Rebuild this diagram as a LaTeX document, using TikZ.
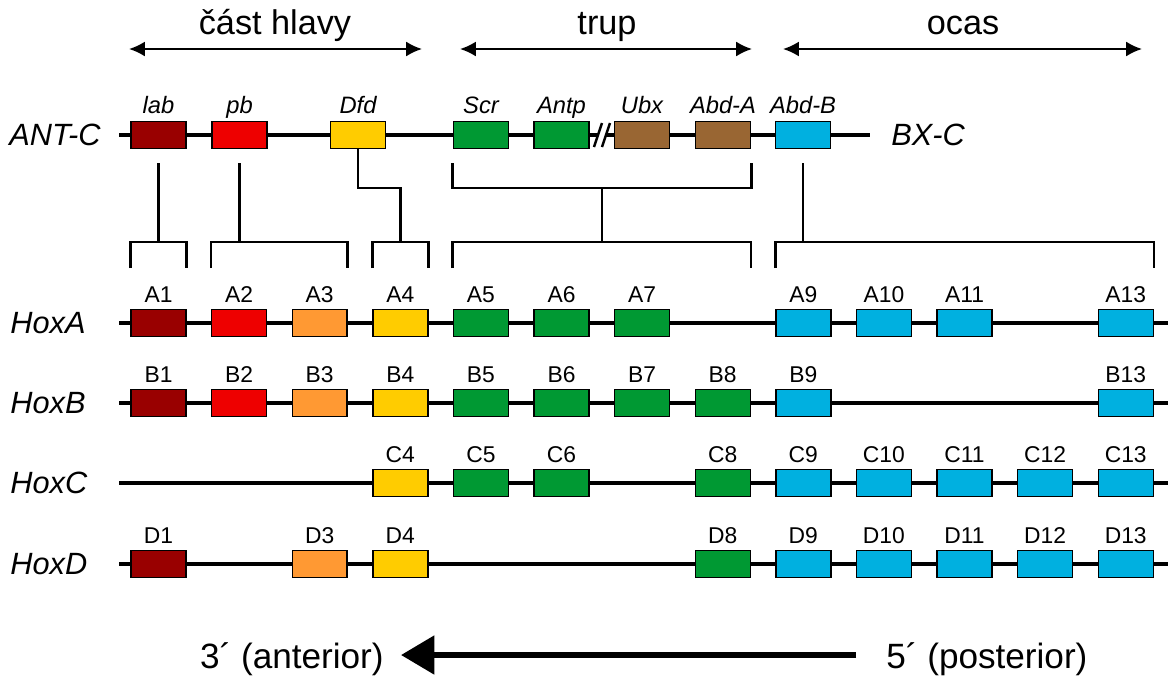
\documentclass[tikz,border=0pt]{standalone}
\usepackage{fontspec}
\setmainfont{Liberation Sans}
\usetikzlibrary{arrows.meta,calc}

\definecolor{hx1}{HTML}{990000}
\definecolor{hx2}{HTML}{EE0000}
\definecolor{hx3}{HTML}{FF9933}
\definecolor{hx4}{HTML}{FFCC00}
\definecolor{hgreen}{HTML}{009933}
\definecolor{hcyan}{HTML}{00B0E0}
\definecolor{hbrown}{HTML}{996633}
\colorlet{hx5}{hgreen}\colorlet{hx6}{hgreen}\colorlet{hx7}{hgreen}\colorlet{hx8}{hgreen}
\colorlet{hx9}{hcyan}\colorlet{hx10}{hcyan}\colorlet{hx11}{hcyan}\colorlet{hx12}{hcyan}\colorlet{hx13}{hcyan}

\begin{document}
\begin{tikzpicture}[x=0.02cm, y=-0.02cm,
    gene/.style={draw=black, line width=0.8pt, minimum width=1.1cm, minimum height=0.54cm, inner sep=0pt},
    dna/.style={line width=2.5pt},
    link/.style={line width=1.6pt},
    region/.style={line width=1.2pt, {Latex[length=9pt,width=8.5pt]}-{Latex[length=9pt,width=8.5pt]}},
    title/.style={font=\fontsize{19.5}{22}\selectfont, anchor=base, inner sep=0pt},
    cluster/.style={font=\fontsize{17.5}{20}\selectfont\itshape, anchor=west, inner sep=0pt},
    gname/.style={font=\fontsize{13.5}{15}\selectfont\itshape, anchor=base, inner sep=0pt},
    hname/.style={font=\fontsize{13}{15}\selectfont, anchor=base, inner sep=0pt}]
  \useasboundingbox (0,0) rectangle (1168,680);

  % body regions
  \node[title] (head)  at (275,34) {část hlavy};
  \node[title] (trunk) at (607,34) {trup};
  \node[title] (tail)  at (963,34) {ocas};
  \coordinate (head-l) at (129,49);  \coordinate (head-r) at (422,49);
  \coordinate (trunk-l) at (460,49); \coordinate (trunk-r) at (752,49);
  \coordinate (tail-l) at (783,49);  \coordinate (tail-r) at (1142,49);
  \draw[region] (head-l) -- (head-r);
  \draw[region] (trunk-l) -- (trunk-r);
  \draw[region] (tail-l) -- (tail-r);

  % fly complexes
  \node[cluster] (antc) at (9,135) {ANT-C};
  \node[cluster] (bxc) at (891,135) {BX-C};
  \coordinate (antc-s) at (119,135); \coordinate (brk-a) at (598,135);
  \coordinate (brk-b) at (606,135);  \coordinate (antc-e) at (870,135);
  \draw[dna] (antc-s) -- (brk-a);
  \draw[dna] (brk-b) -- (antc-e);
  \draw[line width=1.4pt] ($(brk-a)+(-4,12)$) -- ($(brk-a)+(4,-12)$);
  \draw[line width=1.4pt] ($(brk-b)+(-4,12)$) -- ($(brk-b)+(4,-12)$);
  \foreach \g/\gx/\col/\txt in {lab/158.5/hx1/lab, pb/239.5/hx2/pb, Dfd/358/hx4/Dfd,
      Scr/481/hgreen/Scr, Antp/561.5/hgreen/Antp, Ubx/642/hbrown/Ubx,
      AbdA/723/hbrown/Abd-A, AbdB/803/hcyan/Abd-B} {
    \node[gene, fill=\col] (\g) at (\gx,135) {};
    \node[gname] (t-\g) at (\gx,113) {\txt};
  }

  % vertebrate clusters
  \foreach \rw/\ry/\cols in {A/323/{1,2,3,4,5,6,7,9,10,11,13},
      B/403/{1,2,3,4,5,6,7,8,9,13},
      C/483/{4,5,6,8,9,10,11,12,13},
      D/564/{1,3,4,8,9,10,11,12,13}} {
    \coordinate (\rw-s) at (119,\ry);
    \coordinate (\rw-e) at (1168,\ry);
    \draw[dna] (\rw-s) -- (\rw-e);
    \node[cluster] (hox\rw) at (10,\ry) {Hox\rw};
    \foreach \cl in \cols {
      \pgfmathsetmacro{\gx}{158.5+80.6*(\cl-1)}
      \node[gene, fill=hx\cl] (\rw\cl) at (\gx,\ry) {};
      \node[hname] (t-\rw\cl) at (\gx,\ry-21) {\rw\cl};
    }
  }

  % homology links
  \coordinate (stub) at (0,163);
  \coordinate (elb) at (0,188);
  \coordinate (brt) at (0,242);
  \coordinate (brb) at (0,268);
  \draw[link] (lab.south |- stub) -- (lab.south |- brt);
  \draw[link] (pb.south |- stub) -- (pb.south |- brt);
  \draw[link] (Dfd.south) -- (Dfd.south |- elb) -- (A4.north |- elb) -- (A4.north |- brt);
  \draw[link] (Scr.west |- stub) -- (Scr.west |- elb) -- (AbdA.east |- elb) -- (AbdA.east |- stub);
  \coordinate (trmid) at ($(Scr.west)!0.5!(AbdA.east)$);
  \draw[link] (trmid |- elb) -- (trmid |- brt);
  \draw[link] (AbdB.south |- stub) -- (AbdB.south |- brt);

  \draw[link] (A1.west |- brb) -- (A1.west |- brt) -- (A1.east |- brt) -- (A1.east |- brb);
  \draw[link] (A2.west |- brb) -- (A2.west |- brt) -- (A3.east |- brt) -- (A3.east |- brb);
  \draw[link] (A4.west |- brb) -- (A4.west |- brt) -- (A4.east |- brt) -- (A4.east |- brb);
  \draw[link] (A5.west |- brb) -- (A5.west |- brt) -- (B8.east |- brt) -- (B8.east |- brb);
  \draw[link] (A9.west |- brb) -- (A9.west |- brt) -- (A13.east |- brt) -- (A13.east |- brb);

  % axis
  \node[font=\fontsize{20}{24}\selectfont, anchor=east, inner sep=0pt] (ant) at (384,659) {3´ (anterior)};
  \node[font=\fontsize{20}{24}\selectfont, anchor=west, inner sep=0pt] (post) at (886,659) {5´ (posterior)};
  \coordinate (ax-r) at (856,655); \coordinate (ax-l) at (401,655);
  \draw[line width=3.4pt, -{Triangle[length=19pt,width=21.5pt]}] (ax-r) -- (ax-l);
\end{tikzpicture}
\end{document}
